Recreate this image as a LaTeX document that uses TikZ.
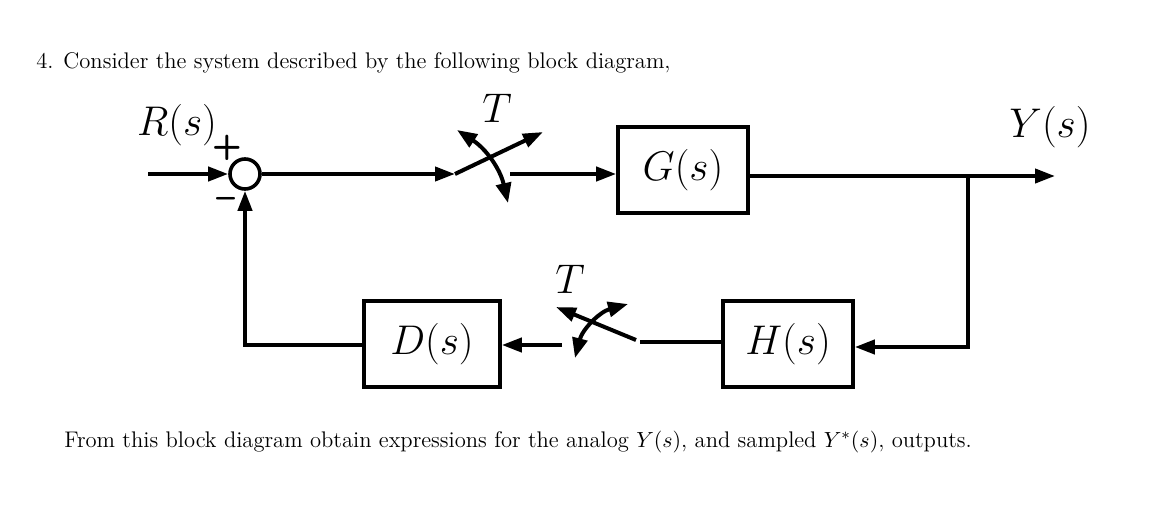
\documentclass[tikz,border=0pt]{standalone}
\usetikzlibrary{arrows.meta}
\begin{document}
\begin{tikzpicture}[x=0.5pt,y=-0.5pt,
  wire/.style={line width=2pt},
  arr/.style={wire,-{Triangle[length=10pt,width=7pt]}},
  darr/.style={wire,{Triangle[length=10pt,width=7.5pt]}-{Triangle[length=10pt,width=7.5pt]}},
  blk/.style={draw,line width=1.8pt,minimum width=65pt,minimum height=43pt,inner sep=0pt,font=\fontsize{20}{24}\selectfont},
  lbl/.style={font=\fontsize{20}{24}\selectfont,inner sep=0pt},
  txt/.style={anchor=base west,inner sep=0pt,font=\fontsize{11.3}{13}\selectfont},
  sign/.style={inner sep=0pt,font=\sffamily\bfseries\LARGE}]
\useasboundingbox (0,0) rectangle (1161,530);
\node[txt] (title) at (36,68) {4. Consider the system described by the following block diagram,};
\node[txt] (foot) at (64,447) {From this block diagram obtain expressions for the analog $Y(s)$, and sampled $Y^*(s)$, outputs.};
% labels
\node[lbl] (R) at (177,125) {$R(s)$};
\node[lbl] (Y) at (1050,127) {$Y(s)$};
\node[lbl] (T1) at (497,108) {$T$};
\node[lbl] (T2) at (570,279) {$T$};
% sum
\node[draw,circle,line width=1.8pt,minimum size=15pt,inner sep=0pt] (sum) at (245,174) {};
\node[sign] (plus) at (227,148) {+};
\node[sign] (minus) at (226,203) {\textendash};
% blocks
\node[blk] (G) at (683,170) {$G(s)$};
\node[blk] (H) at (788,344) {$H(s)$};
\node[blk,minimum width=68pt] (D) at (432,344) {$D(s)$};
% coordinates
\coordinate (in) at (148,174);
\coordinate (s1a) at (455,174);
\coordinate (s1b) at (543,132);
\coordinate (s1c) at (510,174);
\coordinate (out) at (1055,176);
\coordinate (br) at (968,176);
\coordinate (brd) at (968,347);
\coordinate (s2a) at (640,342);
\coordinate (s2b) at (556,307);
\coordinate (s2c) at (562,345);
\coordinate (fb) at (245,345);
% wires
\draw[arr] (in) -- (sum.west);
\draw[arr] (sum.east) -- (s1a);
\draw[arr] (s1a) -- (s1b);
\draw[darr] (457,130) to[bend left=22] (508,203);
\draw[arr] (s1c) -- (G.west |- s1c);
\draw[arr] (G.east |- out) -- (out);
\draw[arr] (br) -- (brd) -- (H.east |- brd);
\draw[wire] (H.west |- s2a) -- (s2a);
\draw[arr] (636,340) -- (s2b);
\draw[darr] (575,358) to[bend left=30] (628,304);
\draw[arr] (s2c) -- (D.east |- s2c);
\draw[arr] (D.west |- fb) -- (fb) -- (sum.south);
\end{tikzpicture}
\end{document}
